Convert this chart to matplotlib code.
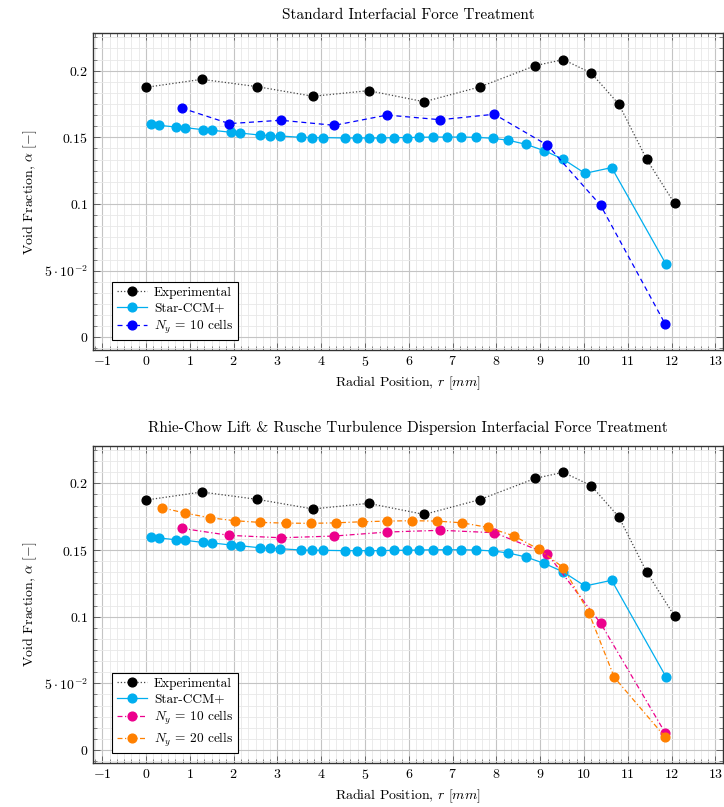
import matplotlib
matplotlib.use("Agg")
import matplotlib.pyplot as plt
from matplotlib.ticker import MultipleLocator, FixedLocator

plt.rcParams['font.family'] = 'serif'
plt.rcParams['font.serif'] = ['cmr10', 'DejaVu Serif']
plt.rcParams['mathtext.fontset'] = 'cm'
plt.rcParams['axes.formatter.use_mathtext'] = True

# experimental data (same in both panels)
exp_r = [0, 1.27, 2.54, 3.81, 5.08, 6.35, 7.62, 8.89, 9.525, 10.16, 10.795, 11.43, 12.065]
exp_a = [0.1875, 0.1935, 0.188, 0.1808, 0.185, 0.1767, 0.1878, 0.2038, 0.2083, 0.1983,
         0.1748, 0.1335, 0.1004]

# Star-CCM+ results
ccm_r = [0.12, 0.30, 0.69, 0.89, 1.30, 1.51, 1.93, 2.15, 2.60, 2.83, 3.06, 3.54, 3.78, 4.03,
         4.55, 4.81, 5.08, 5.36, 5.65, 5.95, 6.24, 6.55, 6.87, 7.20, 7.54, 7.91, 8.27, 8.67,
         9.09, 9.53, 10.02, 10.63, 11.87]
ccm_a = [0.1598, 0.159, 0.1577, 0.1573, 0.1557, 0.1553, 0.1538, 0.1532, 0.1517, 0.1512, 0.151,
         0.15, 0.1498, 0.1498, 0.1495, 0.1495, 0.1495, 0.1495, 0.1498, 0.1498, 0.15, 0.1502,
         0.1502, 0.1502, 0.15, 0.1493, 0.1478, 0.1448, 0.14, 0.1335, 0.123, 0.1273, 0.0549]

# Ny = 10 cells, standard treatment
std10_r = [0.81, 1.90, 3.08, 4.30, 5.50, 6.72, 7.95, 9.16, 10.38, 11.85]
std10_a = [0.172, 0.1603, 0.1628, 0.159, 0.1667, 0.1632, 0.1673, 0.1442, 0.0989, 0.0101]

# Ny = 10 cells, lift + turbulence dispersion
rc10_r = [0.81, 1.90, 3.08, 4.30, 5.51, 6.72, 7.95, 9.16, 10.38, 11.85]
rc10_a = [0.1663, 0.161, 0.1592, 0.1605, 0.1635, 0.1648, 0.163, 0.1472, 0.095, 0.013]

# Ny = 20 cells, lift + turbulence dispersion
rc20_r = [0.37, 0.89, 1.46, 2.02, 2.61, 3.19, 3.76, 4.34, 4.92, 5.50, 6.07, 6.64, 7.22, 7.80,
          8.39, 8.97, 9.53, 10.11, 10.69, 11.85]
rc20_a = [0.1817, 0.1777, 0.1742, 0.172, 0.1707, 0.1702, 0.17, 0.1704, 0.1712, 0.1717, 0.172,
          0.1717, 0.1704, 0.167, 0.1607, 0.1505, 0.1367, 0.103, 0.0545, 0.0098]

y_ticks = [0, 0.05, 0.1, 0.15, 0.2]
y_labels = ['$0$', r'$5\cdot10^{-2}$', '$0.1$', '$0.15$', '$0.2$']
x_ticks = list(range(-1, 14))

titles = ['Standard Interfacial Force Treatment',
          'Rhie-Chow Lift & Rusche Turbulence Dispersion Interfacial Force Treatment']

c_ccm = '#00aeef'
c_blue = '#0000ff'
c_pink = '#ec008c'
c_orange = '#ff8000'
ms = 6.3

fig = plt.figure(figsize=(7.24, 8.07), dpi=100)
ax1 = fig.add_axes([0.1285, 0.5663, 0.870, 0.3924])
ax2 = fig.add_axes([0.1285, 0.0549, 0.870, 0.3924])


def style(ax, title):
    ax.set_xlim(-1.21, 13.17)
    ax.set_ylim(-0.0095, 0.228)
    ax.xaxis.set_major_locator(FixedLocator(x_ticks))
    ax.set_xticklabels(['$%d$' % v for v in x_ticks])
    ax.xaxis.set_minor_locator(MultipleLocator(1 / 6))
    ax.yaxis.set_major_locator(FixedLocator(y_ticks))
    ax.set_yticklabels(y_labels)
    ax.yaxis.set_minor_locator(MultipleLocator(0.05 / 6))
    ax.grid(which='major', color='#c4c4c4', lw=0.8)
    ax.grid(which='minor', color='#e8e8e8', lw=0.6)
    ax.set_axisbelow(True)
    ax.tick_params(which='both', direction='in', top=True, right=True, labelsize=10)
    ax.tick_params(which='major', length=5, width=0.6, color='#555555')
    ax.tick_params(which='minor', length=3, width=0.5, color='#555555')
    for s in ax.spines.values():
        s.set_color('#333333')
        s.set_linewidth(1.0)
    ax.set_xlabel(r'Radial Position, $r$ $[mm]$', fontsize=10)
    ax.set_ylabel(r'Void Fraction, $\alpha$ $[-]$', fontsize=10)
    ax.set_title(title, fontsize=11, pad=10)


def add_legend(ax):
    leg = ax.legend(loc='lower left', bbox_to_anchor=(0.03, 0.03), fontsize=9.6,
                    fancybox=False, framealpha=1, edgecolor='black', borderaxespad=0,
                    handlelength=2.3, handletextpad=0.5, labelspacing=0.25,
                    borderpad=0.35)
    leg.get_frame().set_linewidth(0.8)


ax1.plot(exp_r, exp_a, ':', color='#444444', lw=0.9, marker='o', ms=ms,
         mfc='black', mec='black', label='Experimental')
ax1.plot(ccm_r, ccm_a, '-', color=c_ccm, lw=0.9, marker='o', ms=ms,
         mfc=c_ccm, mec=c_ccm, label='Star-CCM+')
ax1.plot(std10_r, std10_a, color=c_blue, lw=0.9, ls=(0, (4, 3)), marker='o', ms=ms,
         mfc=c_blue, mec=c_blue, label='$N_y$ = 10 cells')
style(ax1, titles[0])
add_legend(ax1)

ax2.plot(exp_r, exp_a, ':', color='#444444', lw=0.9, marker='o', ms=ms,
         mfc='black', mec='black', label='Experimental')
ax2.plot(ccm_r, ccm_a, '-', color=c_ccm, lw=0.9, marker='o', ms=ms,
         mfc=c_ccm, mec=c_ccm, label='Star-CCM+')
ax2.plot(rc10_r, rc10_a, color=c_pink, lw=0.9, ls=(0, (4, 2, 1, 2)), marker='o', ms=ms,
         mfc=c_pink, mec=c_pink, label='$N_y$ = 10 cells')
ax2.plot(rc20_r, rc20_a, color=c_orange, lw=0.9, ls=(0, (4, 2, 1, 2)), marker='o', ms=ms,
         mfc=c_orange, mec=c_orange, label='$N_y$ = 20 cells')
style(ax2, titles[1])
add_legend(ax2)

fig.savefig('out.png', dpi=100)
